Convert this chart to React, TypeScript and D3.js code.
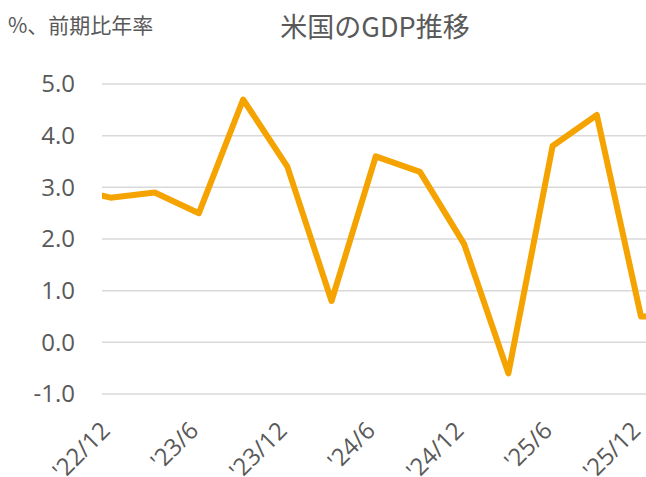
import React from "react";
import * as d3 from "d3";

const categories = ["'22/9", "'22/12", "'23/3", "'23/6", "'23/9", "'23/12", "'24/3", "'24/6", "'24/9", "'24/12", "'25/3", "'25/6", "'25/9", "'25/12", "'26/3"];
const gdpValues = [3.0, 2.8, 2.9, 2.5, 4.7, 3.4, 0.8, 3.6, 3.3, 1.9, -0.6, 3.8, 4.4, 0.5, 0.5];
const yTicks = [-1, 0, 1, 2, 3, 4, 5];
const xLabelIdx = [1, 3, 5, 7, 9, 11, 13];

const W = 646;
const H = 477;
const plotLeft = 102;

export default function App() {
  const x = d3.scaleLinear().domain([1, 13]).range([110.5, 641]);
  const y = d3.scaleLinear().domain([-1, 5]).range([394, 84]);
  const line = d3
    .line<number>()
    .x((_, i) => x(i))
    .y((d) => y(d));
  const textColor = "#595959";
  const font = "'Open Sans', 'Noto Sans CJK JP', sans-serif";
  return (
    <svg width={W} height={H} style={{ position: "absolute", left: 0, top: 0, background: "#fff" }}>
      <defs>
        <clipPath id="plotclip">
          <rect x={plotLeft} y={0} width={W - plotLeft} height={H} />
        </clipPath>
      </defs>
      <text x={375} y={37} textAnchor="middle" fontSize={27} fill={textColor} fontFamily="'Noto Sans CJK JP', sans-serif">
        米国のGDP推移
      </text>
      <text x={8} y={33} fontSize={21} fill={textColor} fontFamily="'Noto Sans CJK JP', sans-serif">
        %、前期比年率
      </text>
      {yTicks.map((t) => (
        <g key={t}>
          <line x1={plotLeft} x2={W} y1={y(t)} y2={y(t)} stroke="#d9d9d9" strokeWidth={1.5} />
          <text x={75} y={y(t)} dy="0.35em" textAnchor="end" fontSize={24} fill={textColor} fontFamily={font}>
            {t.toFixed(1)}
          </text>
        </g>
      ))}
      {xLabelIdx.map((i) => (
        <text
          key={i}
          transform={`translate(${x(i) + 1},${432}) rotate(-45)`}
          textAnchor="end"
          fontSize={24}
          fill={textColor}
          fontFamily={font}
        >
          {categories[i]}
        </text>
      ))}
      <path
        d={line(gdpValues) || ""}
        fill="none"
        stroke="#F5A300"
        strokeWidth={6}
        strokeLinejoin="round"
        clipPath="url(#plotclip)"
      />
    </svg>
  );
}
